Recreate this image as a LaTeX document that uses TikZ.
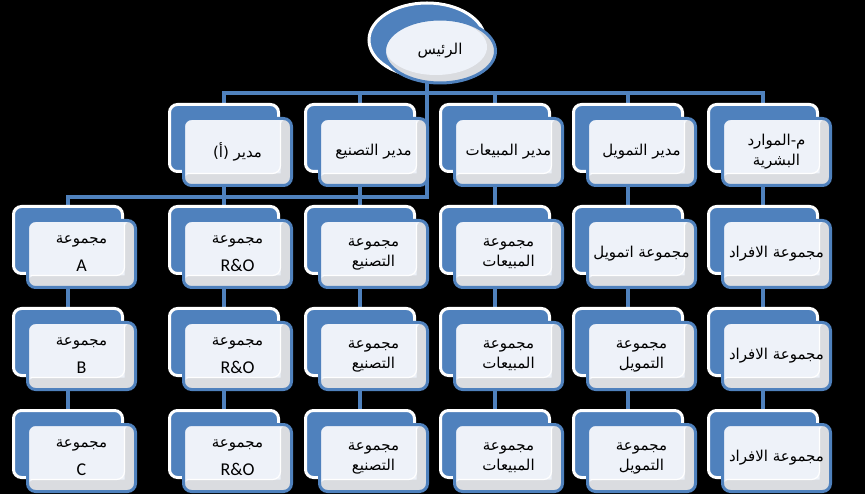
\documentclass[tikz,border=0pt]{standalone}
\usepackage{fontspec}
\usepackage{xcolor}
\usetikzlibrary{shapes.geometric}
\TeXXeTstate=1
\newfontfamily\arabicfont[Script=Arabic]{DejaVu Sans}
\newfontfamily\latinfont{Carlito}
\newcommand{\lettr}[1]{{\latinfont\fontsize{18}{20}\selectfont #1}}
\definecolor{cardblue}{RGB}{79,129,189}
\definecolor{cardface}{RGB}{238,242,249}
\definecolor{cardbevel}{RGB}{218,220,224}
\pgfdeclarelayer{canvas}
\pgfdeclarelayer{wires}
\pgfsetlayers{canvas,wires,main}

\begin{document}
\begin{tikzpicture}[x=1pt,y=-1pt,
  back/.style={draw=white,fill=cardblue,line width=3pt,rounded corners=8pt,minimum width=109pt,minimum height=67pt},
  face/.style={draw=cardblue,fill=cardface,line width=3pt,rounded corners=8pt,minimum width=108pt,minimum height=67pt,
    align=center,font={\arabicfont\fontsize{15}{20}\selectfont},
    path picture={\fill[cardbevel] ([xshift=-11pt]path picture bounding box.north east) rectangle (path picture bounding box.south east);
      \fill[cardbevel] (path picture bounding box.south west) rectangle ([yshift=12pt]path picture bounding box.south east);
      \draw[white,line width=1.2pt] ([xshift=-11pt,yshift=-3pt]path picture bounding box.north east) -- ([xshift=-11pt,yshift=12pt]path picture bounding box.south east) -- ([xshift=3pt,yshift=12pt]path picture bounding box.south west);}},
  conn/.style={draw=cardblue,line width=3.5pt},
  card/.pic={\node[back] (-back) at (0,0) {};
    \node[face] (-face) at (13.5,14) {#1};}]
\useasboundingbox (0,0) rectangle (865,494);
\begin{pgfonlayer}{canvas}
\fill[black] (0,0) rectangle (865,494);
\end{pgfonlayer}

\node[ellipse,draw=white,fill=cardblue,line width=3pt,minimum width=116pt,minimum height=74pt] (boss) at (427,40) {};
\node[ellipse,draw=cardblue,fill=cardbevel,line width=3pt,minimum width=111pt,minimum height=64pt,
  font={\arabicfont\fontsize{15}{18}\selectfont},
  path picture={\fill[cardface] ([xshift=-4pt,yshift=4pt]path picture bounding box.center) ellipse (51pt and 28pt);}] (boss-face) at (440,51) {الرئيس};

\pic (m2) at (224,138) {card={\beginR مدير (أ)\endR}};
\pic (m3) at (360,138) {card={\beginR مدير التصنيع\endR}};
\pic (m4) at (495,138) {card={\beginR مدير المبيعات\endR}};
\pic (m5) at (628,138) {card={\beginR مدير التمويل\endR}};
\pic (m6) at (763,138) {card={م-الموارد\\البشرية}};

\pic (g13) at (68,240) {card={مجموعة\\[8pt]\lettr{A}}};
\pic (g14) at (68,342) {card={مجموعة\\[8pt]\lettr{B}}};
\pic (g15) at (68,444) {card={مجموعة\\[8pt]\lettr{C}}};
\pic (g23) at (224,240) {card={مجموعة\\[8pt]\lettr{R\&O}}};
\pic (g24) at (224,342) {card={مجموعة\\[8pt]\lettr{R\&O}}};
\pic (g25) at (224,444) {card={مجموعة\\[8pt]\lettr{R\&O}}};
\pic (g33) at (360,240) {card={مجموعة\\التصنيع}};
\pic (g34) at (360,342) {card={مجموعة\\التصنيع}};
\pic (g35) at (360,444) {card={مجموعة\\التصنيع}};
\pic (g43) at (495,240) {card={مجموعة\\المبيعات}};
\pic (g44) at (495,342) {card={مجموعة\\المبيعات}};
\pic (g45) at (495,444) {card={مجموعة\\المبيعات}};
\pic (g53) at (628,240) {card={\beginR مجموعة اتمويل\endR}};
\pic (g54) at (628,342) {card={مجموعة\\التمويل}};
\pic (g55) at (628,444) {card={مجموعة\\التمويل}};
\pic (g63) at (763,240) {card={\beginR مجموعة الافراد\endR}};
\pic (g64) at (763,342) {card={\beginR مجموعة الافراد\endR}};
\pic (g65) at (763,444) {card={\beginR مجموعة الافراد\endR}};

\begin{pgfonlayer}{wires}
\foreach \c in {2,...,6} \draw[conn] (boss) -- ++(0,53) -| (m\c-back);
\draw[conn] (boss) -- ++(0,157) -| (g13-back);
\foreach \c in {2,...,6} \draw[conn] (m\c-back) -- (g\c3-back);
\foreach \c in {1,...,6} \draw[conn] (g\c3-back) -- (g\c4-back) -- (g\c5-back);
\end{pgfonlayer}
\end{tikzpicture}
\end{document}
